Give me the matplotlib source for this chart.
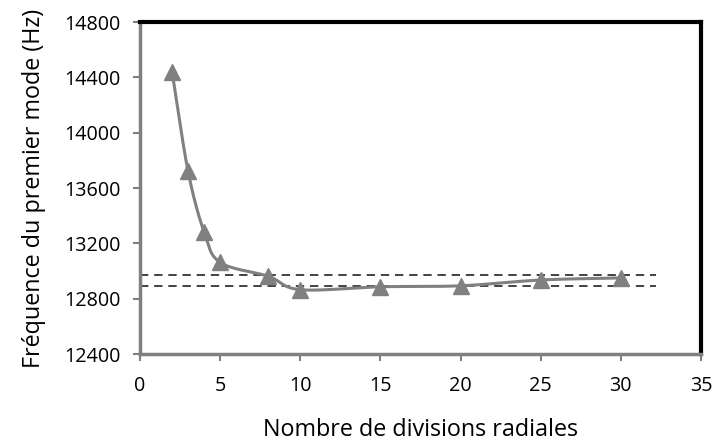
import numpy as np
import matplotlib
matplotlib.use("Agg")
import matplotlib.pyplot as plt

x_div = [2, 3, 4, 5, 8, 10, 15, 20, 25, 30]
freq = [14440, 13720, 13282, 13062, 12962, 12865, 12886, 12893, 12935, 12950]
ref_lines = [12972, 12888]
ref_xmax = 32.2
xticks = [0, 5, 10, 15, 20, 25, 30, 35]
yticks = [12400, 12800, 13200, 13600, 14000, 14400, 14800]

plt.rcParams['font.family'] = ['Open Sans', 'DejaVu Sans']


def catmull_rom(xs, ys, n=30):
    xs = np.asarray(xs, float)
    ys = np.asarray(ys, float)
    px = np.concatenate([[2 * xs[0] - xs[1]], xs, [2 * xs[-1] - xs[-2]]])
    py = np.concatenate([[2 * ys[0] - ys[1]], ys, [2 * ys[-1] - ys[-2]]])
    outx, outy = [], []
    t = np.linspace(0, 1, n)
    for i in range(1, len(px) - 2):
        p0, p1, p2, p3 = [np.array([px[j], py[j]]) for j in (i - 1, i, i + 1, i + 2)]
        k = 1 / 6.0
        c1 = p1 + (p2 - p0) * k
        c2 = p2 - (p3 - p1) * k
        b = ((1 - t) ** 3)[:, None] * p1 + (3 * (1 - t) ** 2 * t)[:, None] * c1 \
            + (3 * (1 - t) * t ** 2)[:, None] * c2 + (t ** 3)[:, None] * p2
        outx.extend(b[:, 0])
        outy.extend(b[:, 1])
    return outx, outy


fig = plt.figure(figsize=(7.13, 4.41), dpi=100)
ax = fig.add_axes([140 / 713, 1 - 354 / 441, 561 / 713, 332 / 441])

for yv in ref_lines:
    ax.plot([0, ref_xmax], [yv, yv], color='#222222', lw=1.2, dashes=(5, 3.5), zorder=2)

sx, sy = catmull_rom(x_div, freq)
ax.plot(sx, sy, color='#808080', lw=2.2, zorder=3)
ax.plot(x_div, freq, linestyle='none', marker='^', markersize=11,
        color='#808080', zorder=4)

ax.set_xlim(0, 35)
ax.set_ylim(12400, 14800)
ax.set_xticks(xticks)
ax.set_yticks(yticks)
ax.tick_params(axis='both', labelsize=14.2, colors='#808080', labelcolor='black',
               direction='out', length=5, width=1.5)
ax.tick_params(axis='y', pad=9)
ax.tick_params(axis='x', pad=11)

for s in ['left', 'bottom']:
    ax.spines[s].set_color('#808080')
    ax.spines[s].set_linewidth(2.5)
for s in ['top', 'right']:
    ax.spines[s].set_color('black')
    ax.spines[s].set_linewidth(3)

ax.set_xlabel('Nombre de divisions radiales', fontsize=16.8, labelpad=16)
ax.set_ylabel('Fréquence du premier mode (Hz)', fontsize=16.8, labelpad=13)

fig.savefig('out.png', dpi=100)
